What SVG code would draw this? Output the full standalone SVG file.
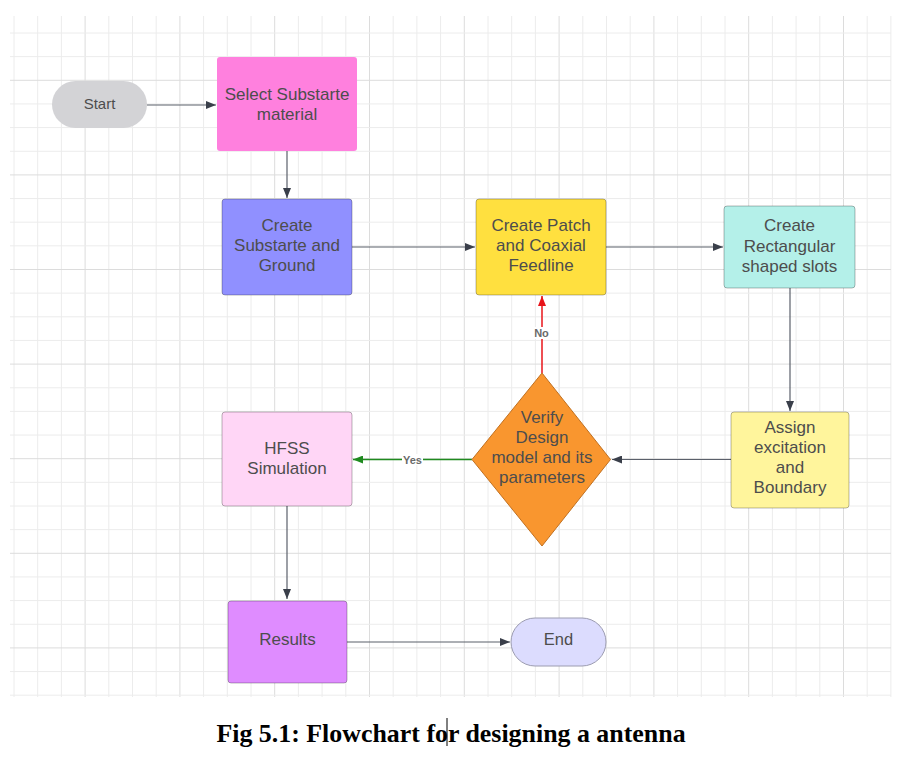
<svg xmlns="http://www.w3.org/2000/svg" width="902" height="759" viewBox="0 0 902 759">
<style>
.minor{stroke:#ececec;stroke-width:1;fill:none}
.major{stroke:#dcdcdc;stroke-width:1;fill:none}
.node{stroke:#000;stroke-opacity:0.28;stroke-width:1}
.t{font-family:"Liberation Sans",Arial,sans-serif;font-size:17px;fill:#4d4d4d;text-anchor:middle}
.conn{stroke:#5b606b;stroke-width:1.2;fill:none}
.lbl{font-family:"Liberation Sans",Arial,sans-serif;font-size:11px;font-weight:bold;fill:#6a6a6a;text-anchor:middle}
.cap{font-family:"Liberation Serif","Times New Roman",serif;font-size:25.9px;font-weight:bold;fill:#000;text-anchor:middle}
</style>
<defs>
<marker id="ah" viewBox="0 0 10 8" refX="10" refY="4" markerWidth="10" markerHeight="8" markerUnits="userSpaceOnUse" orient="auto"><path d="M0,0 L10,4 L0,8 Z" fill="#3a3f4a"/></marker>
<marker id="ahr" viewBox="0 0 10 8" refX="10" refY="4" markerWidth="10" markerHeight="8" markerUnits="userSpaceOnUse" orient="auto"><path d="M0,0 L10,4 L0,8 Z" fill="#e8141a"/></marker>
<marker id="ahg" viewBox="0 0 10 8" refX="10" refY="4" markerWidth="10" markerHeight="8" markerUnits="userSpaceOnUse" orient="auto"><path d="M0,0 L10,4 L0,8 Z" fill="#1f8a1f"/></marker>
</defs>
<rect width="902" height="759" fill="#fff"/>
<g id="grid">
<path class="minor" d="M14,16V697M37.7,16V697M61.4,16V697M108.8,16V697M132.5,16V697M156.2,16V697M203.6,16V697M227.3,16V697M251,16V697M298.4,16V697M322.1,16V697M345.8,16V697M393.2,16V697M416.9,16V697M440.6,16V697M488,16V697M511.7,16V697M535.4,16V697M582.8,16V697M606.5,16V697M630.2,16V697M677.6,16V697M701.3,16V697M725,16V697M772.4,16V697M796.1,16V697M819.8,16V697M867.2,16V697M890.9,16V697"/>
<path class="major" d="M85.1,16V697M179.9,16V697M274.7,16V697M369.5,16V697M464.3,16V697M559.1,16V697M653.9,16V697M748.7,16V697M843.5,16V697"/>
<path class="minor" d="M10,33H891M10,56.65H891M10,103.95H891M10,127.6H891M10,151.25H891M10,198.55H891M10,222.2H891M10,245.85H891M10,293.15H891M10,316.8H891M10,340.45H891M10,387.75H891M10,411.4H891M10,435.05H891M10,482.35H891M10,506H891M10,529.65H891M10,576.95H891M10,600.6H891M10,624.25H891M10,671.55H891M10,695.2H891"/>
<path class="major" d="M10,80.3H891M10,174.9H891M10,269.5H891M10,364.1H891M10,458.7H891M10,553.3H891M10,647.9H891"/>
</g>
<g id="connectors">
<path class="conn" d="M147,105H216" marker-end="url(#ah)"/>
<path class="conn" d="M287,151V198" marker-end="url(#ah)"/>
<path class="conn" d="M352,247H475" marker-end="url(#ah)"/>
<path class="conn" d="M606,247H723" marker-end="url(#ah)"/>
<path class="conn" d="M790,288V411" marker-end="url(#ah)"/>
<path class="conn" d="M731,459.5H612" marker-end="url(#ah)"/>
<path d="M542,373V296" stroke="#e8141a" stroke-width="1.5" fill="none" marker-end="url(#ahr)"/>
<rect x="531" y="327" width="22" height="12" fill="#fff"/>
<text class="lbl" x="541.5" y="337">No</text>
<path d="M472,459.5H353" stroke="#1f8a1f" stroke-width="1.5" fill="none" marker-end="url(#ahg)"/>
<rect x="402" y="454" width="21" height="11" fill="#fff"/>
<text class="lbl" x="412.5" y="463.5">Yes</text>
<path class="conn" d="M287,506V599" marker-end="url(#ah)"/>
<path class="conn" d="M347,642H510" marker-end="url(#ah)"/>
</g>
<g id="start">
<rect x="52" y="81" width="95" height="47" rx="23.5" fill="#d3d3d6"/>
<text class="t" x="99.5" y="109" style="font-size:15px">Start</text>
</g>
<g id="select">
<rect x="217" y="57" width="140" height="94" rx="3" fill="#ff80de"/>
<text class="t" x="287" y="100">Select Substarte</text>
<text class="t" x="287" y="120">material</text>
</g>
<g id="substrate">
<rect class="node" x="222" y="199" width="130" height="96" rx="3" fill="#9090ff"/>
<text class="t" x="287" y="231">Create</text>
<text class="t" x="287" y="251">Substarte and</text>
<text class="t" x="287" y="271">Ground</text>
</g>
<g id="patch">
<rect class="node" x="476" y="199" width="130" height="96" rx="3" fill="#ffe03f"/>
<text class="t" x="541" y="231">Create Patch</text>
<text class="t" x="541" y="251">and Coaxial</text>
<text class="t" x="541" y="271">Feedline</text>
</g>
<g id="slots">
<rect class="node" x="724" y="206" width="131" height="82" rx="3" fill="#b4f0e9"/>
<text class="t" x="789.5" y="231">Create</text>
<text class="t" x="789.5" y="251.5">Rectangular</text>
<text class="t" x="789.5" y="272">shaped slots</text>
</g>
<g id="assign">
<rect class="node" x="731" y="412" width="118" height="96" rx="3" fill="#fff59c"/>
<text class="t" x="790" y="433">Assign</text>
<text class="t" x="790" y="453">excitation</text>
<text class="t" x="790" y="473">and</text>
<text class="t" x="790" y="493">Boundary</text>
</g>
<g id="verify">
<path d="M542,373 L610.5,459.5 L542,546 L472,459.5 Z" fill="#f9962f" stroke="#c07020" stroke-width="1"/>
<text class="t" x="542" y="423">Verify</text>
<text class="t" x="542" y="443">Design</text>
<text class="t" x="542" y="463">model and its</text>
<text class="t" x="542" y="483">parameters</text>
</g>
<g id="hfss">
<rect class="node" x="222" y="412" width="130" height="94" rx="3" fill="#ffd6f6"/>
<text class="t" x="287" y="454">HFSS</text>
<text class="t" x="287" y="474">Simulation</text>
</g>
<g id="results">
<rect class="node" x="228" y="601" width="119" height="82" rx="3" fill="#df8cff"/>
<text class="t" x="287.5" y="645">Results</text>
</g>
<g id="end">
<rect x="511" y="618" width="95" height="48" rx="24" fill="#dcdcfe" stroke="#9c9cb0" stroke-width="1"/>
<text class="t" x="558.5" y="645" style="font-size:16.5px">End</text>
</g>
<g id="caption">
<text class="cap" x="451" y="742">Fig 5.1: Flowchart for designing a antenna</text>
<path d="M447,718V746" stroke="#000" stroke-width="1"/>
</g>
</svg>
